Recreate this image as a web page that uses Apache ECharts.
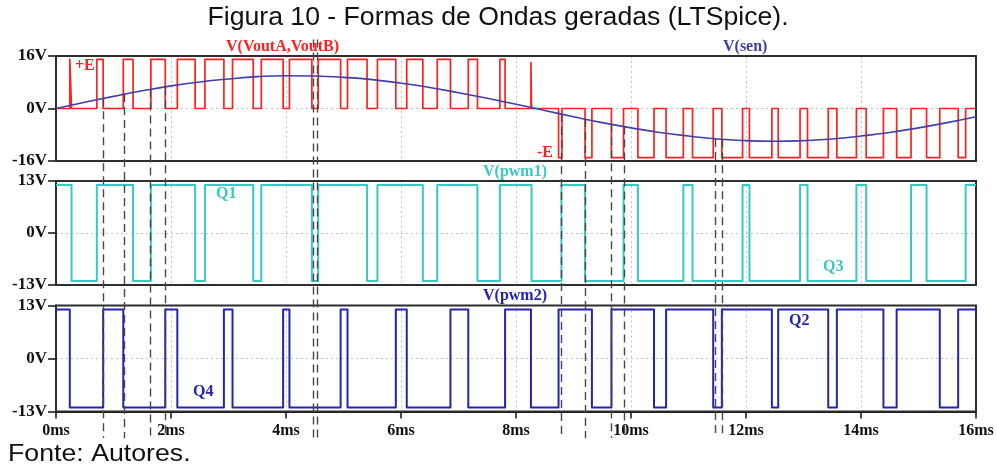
<!DOCTYPE html>
<html>
<head>
<meta charset="utf-8">
<script src="https://cdn.jsdelivr.net/npm/echarts@6/dist/echarts.min.js"></script>
<style>
  html, body { margin: 0; padding: 0; background: #ffffff; }
  #chart { width: 997px; height: 466px; }
</style>
</head>
<body>
<div id="chart"></div>
<script>
// ---- time axis (ms) ----
const timeMin = 0;
const timeMax = 16;
const timeStep = 2;

// ---- V(VoutA,VoutB): level held from each time until the next one (V) ----
const voutTimes = [0, 0.24, 0.27, 0.71, 0.82, 1.17, 1.34, 1.65, 1.90, 2.11, 2.42, 2.59, 2.92, 3.07, 3.43, 3.57,
  3.95, 4.06, 4.45, 4.56, 4.95, 5.07, 5.41, 5.59, 5.91, 6.10, 6.38, 6.63, 6.86, 7.17, 7.33, 7.72, 7.81,
  8.26, 8.27, 8.74, 8.80, 9.20, 9.32, 9.66, 9.87, 10.12, 10.40, 10.61, 10.91, 11.07, 11.43, 11.58, 11.94,
  12.06, 12.45, 12.56, 12.94, 13.07, 13.43, 13.58, 13.92, 14.09, 14.39, 14.62, 14.87, 15.14, 15.37, 15.69,
  15.82, 16];
const voutLevels = [0, 15, 0, 15, 0, 15, 0, 15, 0, 15, 0, 15, 0, 15, 0, 15,
  0, 15, 0, 15, 0, 15, 0, 15, 0, 15, 0, 15, 0, 15, 0, 15, 0,
  14, 0, -15, 0, -15, 0, -15, 0, -15, 0, -15, 0, -15, 0, -15, 0,
  -15, 0, -15, 0, -15, 0, -15, 0, -15, 0, -15, 0, -15, 0, -15,
  0, 0];

// ---- V(sen): reference sine (V) ----
const senTimes = [0, 0.5, 1, 1.5, 2, 2.5, 3, 3.5, 4, 4.5, 5, 5.5, 6, 6.5, 7, 7.5, 8,
  8.5, 9, 9.5, 10, 10.5, 11, 11.5, 12, 12.5, 13, 13.5, 14, 14.5, 15, 15.5, 16];
const senValues = [0, 1.9, 3.7, 5.4, 6.9, 8.1, 9.0, 9.7, 10.0, 9.9, 9.5, 8.8, 7.7, 6.4, 4.8, 3.1, 1.3,
  -0.6, -2.5, -4.3, -5.9, -7.3, -8.4, -9.3, -9.8, -10.0, -9.8, -9.3, -8.4, -7.3, -5.9, -4.3, -2.5];

// ---- V(pwm1): gate signal Q1 / Q3 ----
const pwm1Times = [0, 0.27, 0.71, 1.34, 1.65, 2.42, 2.59, 3.43, 3.57, 4.45, 4.56, 5.41, 5.59, 6.38, 6.63,
  7.33, 7.72, 8.27, 8.79, 9.20, 9.87, 10.12, 10.91, 11.07, 11.94, 12.06, 12.94, 13.07, 13.92, 14.09,
  14.87, 15.14, 15.82, 16];
const pwm1Levels = [12, -12, 12, -12, 12, -12, 12, -12, 12, -12, 12, -12, 12, -12, 12,
  -12, 12, -12, 12, -12, 12, -12, 12, -12, 12, -12, 12, -12, 12, -12,
  12, -12, 12, 12];

// ---- V(pwm2): gate signal Q4 / Q2 ----
const pwm2Times = [0, 0.24, 0.82, 1.17, 1.90, 2.11, 2.92, 3.07, 3.95, 4.06, 4.95, 5.07, 5.91, 6.10, 6.86,
  7.17, 7.81, 8.26, 8.74, 9.32, 9.66, 10.40, 10.61, 11.43, 11.58, 12.45, 12.56, 13.43, 13.58, 14.39,
  14.62, 15.37, 15.69, 16];
const pwm2Levels = [12, -12, 12, -12, 12, -12, 12, -12, 12, -12, 12, -12, 12, -12, 12,
  -12, 12, -12, 12, -12, 12, -12, 12, -12, 12, -12, 12, -12, 12, -12,
  12, -12, 12, 12];

// ---- cursor lines: time (ms) and the upper end, on the V(VoutA,VoutB) scale ----
const cursorTimes = [0.83, 1.19, 1.64, 1.90, 4.47, 4.55, 8.79, 9.20, 9.66, 9.88, 11.46, 11.58];
const cursorTops = [3.1, 4.4, 5.8, 6.5, 21, 21, -1.7, -3.2, -4.8, -5.5, -9.3, -9.4];

// ---- panel ranges ----
const voutRange = 16;
const pwmRange = 13;

// ---- layout ----
const W = 997, H = 466;
const left = 56, right = 21;
const panels = [
  { top: 56, height: 105 },
  { top: 181, height: 104 },
  { top: 305.5, height: 106 }
];
const cursorBottomPx = 438;
const cursorTopPx = 36;

const RED = '#ff2121';
const SEN = '#3f3fa6';
const CYAN = '#38c9c6';
const BLUE = '#2424ae';
const serif = '"Liberation Serif", "DejaVu Serif", serif';
const sans = '"Liberation Sans", Arial, sans-serif';

const zip = (xs, ys) => xs.map((x, i) => [x, ys[i]]);

// overlay axis uses the same volts-per-pixel as the first panel
const pxPerVolt = panels[0].height / (2 * voutRange);
const overlayMax = voutRange + (panels[0].top - cursorTopPx) / pxPerVolt;
const overlayMin = overlayMax - (cursorBottomPx - cursorTopPx) / pxPerVolt;

const grids = panels.map(p => ({
  left: left, right: right, top: p.top, height: p.height,
  show: true, borderColor: '#2e2e2e', borderWidth: 2, containLabel: false, z: 1
}));
grids.push({ left: left, right: right, top: cursorTopPx, bottom: H - cursorBottomPx, containLabel: false });

const splitStyle = {
  show: true, showMinLine: false, showMaxLine: false,
  lineStyle: { color: '#c4c4c4', type: [2, 3], width: 1 }
};

const xAxes = [0, 1, 2].map(i => ({
  type: 'value', gridIndex: i, min: timeMin, max: timeMax, interval: timeStep,
  position: 'bottom',
  axisLine: { show: true, onZero: false, lineStyle: { color: '#111', width: 2 } },
  axisTick: { show: i === 2, inside: false, length: 7, lineStyle: { color: '#111', width: 1.5 } },
  axisLabel: {
    show: i === 2, margin: 11, formatter: v => v + 'ms',
    fontFamily: serif, fontWeight: 'bold', fontSize: 16, color: '#111'
  },
  splitLine: splitStyle
}));
xAxes.push({ type: 'value', gridIndex: 3, min: timeMin, max: timeMax, show: false });

const yAxes = [0, 1, 2].map(i => {
  const r = i === 0 ? voutRange : pwmRange;
  return {
    type: 'value', gridIndex: i, min: -r, max: r, interval: r,
    position: 'left',
    axisLine: { show: true, onZero: false, lineStyle: { color: '#111', width: 2 } },
    axisTick: { show: true, inside: false, length: 8, lineStyle: { color: '#111', width: 1.5 } },
    axisLabel: {
      margin: 9, formatter: v => v + 'V',
      fontFamily: serif, fontWeight: 'bold', fontSize: 17, color: '#111'
    },
    splitLine: splitStyle
  };
});
yAxes.push({ type: 'value', gridIndex: 3, min: overlayMin, max: overlayMax, show: false });

const stepLine = (name, xi, data, color, width, z) => ({
  name, type: 'line', xAxisIndex: xi, yAxisIndex: xi, data, step: 'end',
  showSymbol: false, symbol: 'none', animation: false, z,
  lineStyle: { color, width, join: 'round' }
});

const series = [
  stepLine('V(VoutA,VoutB)', 0, zip(voutTimes, voutLevels), RED, 1.7, 2),
  {
    name: 'V(sen)', type: 'line', xAxisIndex: 0, yAxisIndex: 0,
    data: zip(senTimes, senValues), smooth: true, showSymbol: false, symbol: 'none',
    animation: false, z: 3, lineStyle: { color: SEN, width: 1.6 }
  },
  stepLine('V(pwm1)', 1, zip(pwm1Times, pwm1Levels), CYAN, 2, 2),
  stepLine('V(pwm2)', 2, zip(pwm2Times, pwm2Levels), BLUE, 2, 2),
  {
    name: 'cursors', type: 'lines', coordinateSystem: 'cartesian2d',
    xAxisIndex: 3, yAxisIndex: 3, animation: false, z: 6, silent: true,
    data: cursorTimes.map((t, i) => ({ coords: [[t, cursorTops[i]], [t, overlayMin]] })),
    lineStyle: { color: '#474747', width: 1.4, type: [8, 5], opacity: 1 }
  }
];

const label = (text, x, y, color) => ({
  type: 'text', left: x, top: y, z: 10, silent: true,
  style: { text, fill: color, font: 'bold 16px ' + serif }
});

const graphic = [
  label('V(VoutA,VoutB)', 226, 39, RED),
  label('V(sen)', 723, 39, SEN),
  label('V(pwm1)', 483, 164, CYAN),
  label('V(pwm2)', 483, 288, BLUE),
  label('+E', 75, 58, RED),
  label('-E', 537, 145, RED),
  label('Q1', 216, 186, CYAN),
  label('Q3', 823, 259, CYAN),
  label('Q4', 193, 384, BLUE),
  label('Q2', 789, 313, BLUE),
  {
    type: 'text', x: 498, y: 6, z: 10, silent: true, scaleX: 1.065,
    style: {
      text: 'Figura 10 - Formas de Ondas geradas (LTSpice).', fill: '#111',
      font: 'normal 25px ' + sans, textAlign: 'center', textVerticalAlign: 'top'
    }
  },
  {
    type: 'text', x: 8, y: 442, z: 10, silent: true, scaleX: 1.09,
    style: {
      text: 'Fonte: Autores.', fill: '#111',
      font: 'normal 24.5px ' + sans, textAlign: 'left', textVerticalAlign: 'top'
    }
  }
];

const chart = echarts.init(document.getElementById('chart'), null, { renderer: 'canvas', width: W, height: H });
chart.setOption({
  backgroundColor: '#ffffff',
  animation: false,
  grid: grids,
  xAxis: xAxes,
  yAxis: yAxes,
  series,
  graphic
});
</script>
</body>
</html>
